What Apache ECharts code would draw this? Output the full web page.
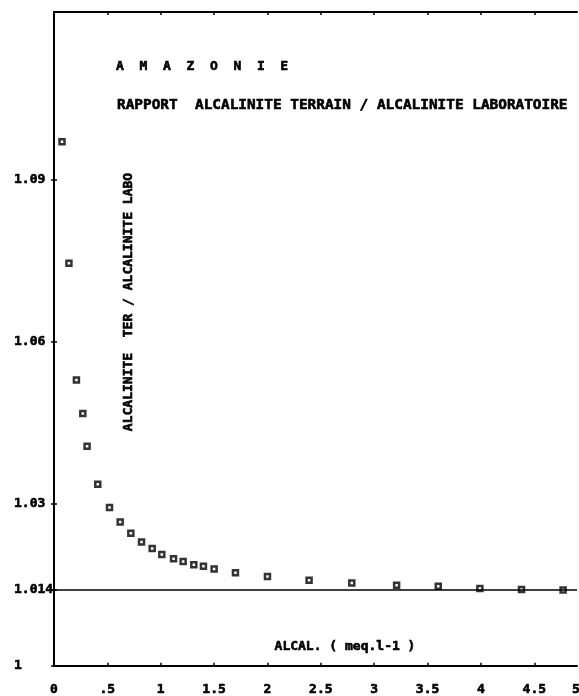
<!DOCTYPE html>
<html>
<head>
<meta charset="utf-8">
<script src="https://cdn.jsdelivr.net/npm/echarts@6/dist/echarts.min.js"></script>
<style>
  html, body { margin: 0; padding: 0; background: #fff; }
  #chart { width: 579px; height: 696px; }
</style>
</head>
<body>
<div id="chart"></div>
<script>
// Field alkalinity (meq/l) vs. ratio field / laboratory alkalinity
const alcal = [0.075, 0.14, 0.21, 0.27, 0.31, 0.41, 0.52, 0.62, 0.72, 0.82, 0.92, 1.01, 1.12,
               1.21, 1.31, 1.40, 1.50, 1.70, 2.00, 2.39, 2.79, 3.21, 3.60, 3.99, 4.38, 4.77];
const ratio = [1.0970, 1.0745, 1.0529, 1.0467, 1.0406, 1.0336, 1.0293, 1.0266, 1.0245, 1.0229,
               1.0217, 1.0206, 1.0198, 1.0193, 1.0187, 1.0184, 1.0179, 1.0172, 1.0165, 1.0158,
               1.0153, 1.0149, 1.0147, 1.0143, 1.0141, 1.0140];
const refLevel = 1.014;
const xTicks = [0, 0.5, 1, 1.5, 2, 2.5, 3, 3.5, 4, 4.5];
const yTicks = [1, 1.014, 1.03, 1.06, 1.09];

const FONT = '"DejaVu Sans Mono", monospace';
// heavy plotter-style lettering: bold mono with a thin outline
const txt = { fontFamily: FONT, fontWeight: 'bold', color: '#000',
              textBorderColor: '#000', textBorderWidth: 0.6 };

const chart = echarts.init(document.getElementById('chart'), null, { renderer: 'canvas' });

const frameLine = { show: true, lineStyle: { color: '#000', width: 2 } };
const innerTick = (vals) => ({ show: true, inside: true, length: 3, customValues: vals,
                                lineStyle: { color: '#000', width: 1.5 } });
const gText = (text, x, y, extra) => ({
  type: 'text', x: x, y: y, rotation: (extra && extra.rotation) || 0,
  style: { text: text, font: 'bold 13px ' + FONT, fill: '#000', stroke: '#000', lineWidth: 0.6,
           align: (extra && extra.align) || 'center', textVerticalAlign: 'middle' }
});

chart.setOption({
  backgroundColor: '#fff',
  animation: false,
  title: [
    { text: 'A  M  A  Z  O  N  I  E', left: 111, top: 55,
      textStyle: Object.assign({ fontSize: 13 }, txt) },
    { text: 'RAPPORT  ALCALINITE TERRAIN / ALCALINITE LABORATOIRE', left: 112, top: 93,
      textStyle: Object.assign({ fontSize: 14.4 }, txt) }
  ],
  grid: { left: 54, right: 2, top: 12, bottom: 30 },
  xAxis: [
    { type: 'value', min: 0, max: 4.9, position: 'bottom',
      axisLine: frameLine, splitLine: { show: false },
      axisTick: innerTick(xTicks),
      axisLabel: Object.assign({ fontSize: 13, margin: 17, customValues: xTicks,
        formatter: v => (v === 0.5 ? '.5' : String(v)) }, txt) },
    { type: 'value', min: 0, max: 4.9, position: 'top',
      axisLine: frameLine, splitLine: { show: false },
      axisTick: innerTick(xTicks), axisLabel: { show: false } }
  ],
  yAxis: [
    { type: 'value', min: 1, max: 1.121, position: 'left',
      axisLine: frameLine, splitLine: { show: false },
      axisTick: innerTick(yTicks),
      axisLabel: Object.assign({ fontSize: 13, margin: 40, align: 'left', customValues: yTicks,
        formatter: v => String(v) }, txt) },
    { type: 'value', min: 1, max: 1.121, position: 'right',
      axisLine: frameLine, splitLine: { show: false },
      axisTick: innerTick(yTicks), axisLabel: { show: false } }
  ],
  graphic: [
    gText('ALCALINITE  TER / ALCALINITE LABO', 129, 302, { rotation: Math.PI / 2 }),
    gText('ALCAL. ( meq.l-1 )', 345, 647),
    gText('5', 572, 690, { align: 'left' })
  ],
  series: [{
    type: 'scatter',
    data: alcal.map((x, i) => [x, ratio[i]]),
    symbol: 'rect',
    symbolSize: 5,
    itemStyle: { color: '#fff', borderColor: '#000', borderWidth: 2.5 },
    markLine: {
      silent: true, symbol: 'none', precision: 3, label: { show: false },
      lineStyle: { color: '#000', width: 1.6, type: 'solid' },
      data: [{ yAxis: refLevel }]
    },
    z: 3
  }]
});
</script>
</body>
</html>
